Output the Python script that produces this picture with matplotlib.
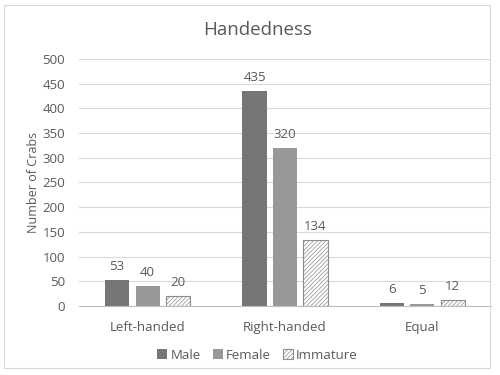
import numpy as np
import matplotlib
matplotlib.use('Agg')
import matplotlib.pyplot as plt
from matplotlib.patches import Rectangle

categories = ['Left-handed', 'Right-handed', 'Equal']
male = [53, 435, 6]
female = [40, 320, 5]
immature = [20, 134, 12]
series_names = ['Male', 'Female', 'Immature']
y_ticks = [0, 50, 100, 150, 200, 250, 300, 350, 400, 450, 500]

text_color = '#595959'
plt.rcParams['font.family'] = ['Open Sans', 'DejaVu Sans']
plt.rcParams['hatch.linewidth'] = 0.5
plt.rcParams['hatch.color'] = '#7f7f7f'

fig = plt.figure(figsize=(5, 3.75), dpi=100)
ax = fig.add_axes([0.158, 0.184, 0.824, 0.659])
fig.patches.append(Rectangle((0.008, 0.018), 0.972, 0.968, transform=fig.transFigure,
                             fill=False, edgecolor='#d9d9d9', linewidth=0.8))

x = np.arange(len(categories))
w = 0.175
step = 0.222
bars_m = ax.bar(x - step, male, w, color='#767679', label=series_names[0], zorder=3)
bars_f = ax.bar(x, female, w, color='#98989b', label=series_names[1], zorder=3)
bars_i = ax.bar(x + step, immature, w, color='white', edgecolor='#8c8c8c', hatch='////////',
                linewidth=0.8, label=series_names[2], zorder=3)

for bars in (bars_m, bars_f, bars_i):
    for b in bars:
        ax.annotate(str(int(b.get_height())), (b.get_x() + b.get_width() / 2, b.get_height()),
                    xytext=(0, 5), textcoords='offset points', ha='center', va='bottom',
                    fontsize=9.5, color=text_color)

ax.set_xlim(-0.5, 2.5)
ax.set_ylim(0, 500)
ax.set_yticks(y_ticks)
ax.set_xticks(x)
ax.set_xticklabels(categories)
ax.tick_params(axis='both', length=0, labelsize=9.5, labelcolor=text_color)
ax.tick_params(axis='x', pad=11)
ax.tick_params(axis='y', pad=10)
ax.grid(axis='y', color='#d9d9d9', linewidth=0.8, zorder=0)
for s in ('top', 'right', 'left'):
    ax.spines[s].set_visible(False)
ax.spines['bottom'].set_color('#bfbfbf')
ax.spines['bottom'].set_zorder(4)

ax.set_ylabel('Number of Crabs', fontsize=9, color=text_color, labelpad=2)
fig.text(0.515, 0.92, 'Handedness', ha='center', va='center', fontsize=13.5, color=text_color)

fig.legend(loc='center', bbox_to_anchor=(0.515, 0.053), ncol=3, frameon=False,
           fontsize=9.5, handlelength=0.75, handleheight=0.75, handletextpad=0.25,
           columnspacing=0.9, labelcolor=text_color)

fig.savefig('out.png', dpi=100)
